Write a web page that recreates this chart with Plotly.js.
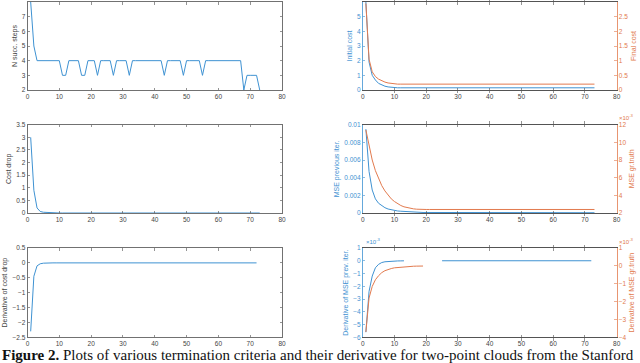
<!DOCTYPE html>
<html>
<head>
<meta charset="utf-8">
<script src="https://cdn.plot.ly/plotly-3.0.1.min.js"></script>
<style>
  html, body { margin: 0; padding: 0; background: #fff; }
  #plotDiv { width: 640px; height: 363px; }
</style>
</head>
<body>
<div id="plotDiv"></div>
<script>
"use strict";

// Iteration index (x for every panel)
const iters = [
  1, 2, 3, 4, 5, 6, 7, 8, 9, 10, 11, 12, 13, 14, 15, 16, 17, 18, 19, 20,
  21, 22, 23, 24, 25, 26, 27, 28, 29, 30, 31, 32, 33, 34, 35, 36, 37, 38, 39, 40,
  41, 42, 43, 44, 45, 46, 47, 48, 49, 50, 51, 52, 53, 54, 55, 56, 57, 58, 59, 60,
  61, 62, 63, 64, 65, 66, 67, 68, 69, 70, 71, 72, 73
];

// Top left: number of successful steps
const succSteps = [
  8, 5, 4, 4, 4, 4, 4, 4, 4, 4,
  3, 3, 4, 4, 4, 4, 3, 3, 4, 4,
  4, 3, 4, 4, 4, 4, 3, 4, 4, 4,
  4, 3, 4, 4, 4, 4, 4, 4, 4, 4,
  4, 4, 3, 4, 4, 4, 4, 4, 3, 4,
  4, 4, 4, 4, 3, 4, 4, 4, 4, 4,
  4, 4, 4, 4, 4, 4, 4, 2, 3, 3,
  3, 3, 2
];

// Top right: initial / final cost
const initialCost = [
  6.0, 1.9, 1.0, 0.68, 0.45, 0.33, 0.26, 0.21, 0.18, 0.15,
  0.15, 0.15, 0.15, 0.15, 0.15, 0.15, 0.15, 0.15, 0.15, 0.15,
  0.15, 0.15, 0.15, 0.15, 0.15, 0.15, 0.15, 0.15, 0.15, 0.15,
  0.15, 0.15, 0.15, 0.15, 0.15, 0.15, 0.15, 0.15, 0.15, 0.15,
  0.15, 0.15, 0.15, 0.15, 0.15, 0.15, 0.15, 0.15, 0.15, 0.15,
  0.15, 0.15, 0.15, 0.15, 0.15, 0.15, 0.15, 0.15, 0.15, 0.15,
  0.15, 0.15, 0.15, 0.15, 0.15, 0.15, 0.15, 0.15, 0.15, 0.15,
  0.15, 0.15, 0.15
];
const finalCost = [
  2.95, 1.05, 0.62, 0.46, 0.37, 0.31, 0.27, 0.24, 0.22, 0.21,
  0.2, 0.2, 0.2, 0.2, 0.2, 0.2, 0.2, 0.2, 0.2, 0.2,
  0.2, 0.2, 0.2, 0.2, 0.2, 0.2, 0.2, 0.2, 0.2, 0.2,
  0.2, 0.2, 0.2, 0.2, 0.2, 0.2, 0.2, 0.2, 0.2, 0.2,
  0.2, 0.2, 0.2, 0.2, 0.2, 0.2, 0.2, 0.2, 0.2, 0.2,
  0.2, 0.2, 0.2, 0.2, 0.2, 0.2, 0.2, 0.2, 0.2, 0.2,
  0.2, 0.2, 0.2, 0.2, 0.2, 0.2, 0.2, 0.2, 0.2, 0.2,
  0.2, 0.2, 0.2
];

// Middle left: cost drop
const costDrop = [
  3.0, 0.9, 0.2, 0.06, 0.03, 0.02, 0.01, 0, 0, 0,
  0, 0, 0, 0, 0, 0, 0, 0, 0, 0,
  0, 0, 0, 0, 0, 0, 0, 0, 0, 0,
  0, 0, 0, 0, 0, 0, 0, 0, 0, 0,
  0, 0, 0, 0, 0, 0, 0, 0, 0, 0,
  0, 0, 0, 0, 0, 0, 0, 0, 0, 0,
  0, 0, 0, 0, 0, 0, 0, 0, 0, 0,
  0, 0, 0
];

// Middle right: MSE vs previous iteration, MSE vs ground truth (x1e-3)
const msePrev = [
  0.0095, 0.0047, 0.0026, 0.0016, 0.0011, 0.0008, 0.0006, 0.00045, 0.00035, 0.00028,
  0.00023, 0.0002, 0.00018, 0.00016, 0.00006, 0.00006, 0.00006, 0.00006, 0.00006, 0.00006,
  0.00006, 0.00006, 0.00003, 0.00003, 0.00003, 0.00003, 0.00003, 0.00003, 0.00003, 0.00003,
  0.00003, 0.00003, 0.00003, 0.00003, 0.00003, 0.00003, 0.00003, 0.00003, 0.00003, 0.00003,
  0.00003, 0.00003, 0.00003, 0.00003, 0.00003, 0.00003, 0.00003, 0.00003, 0.00003, 0.00003,
  0.00003, 0.00003, 0.00003, 0.00003, 0.00003, 0.00003, 0.00003, 0.00003, 0.00003, 0.00003,
  0.00003, 0.00003, 0.00003, 0.00003, 0.00003, 0.00003, 0.00003, 0.00003, 0.00003, 0.00003,
  0.00003, 0.00003, 0.00003
];
const mseGtE3 = [
  11.4, 9.6, 8.0, 6.8, 5.9, 5.1, 4.5, 4.0, 3.6, 3.3,
  3.05, 2.85, 2.7, 2.6, 2.52, 2.47, 2.43, 2.4, 2.4, 2.4,
  2.4, 2.4, 2.4, 2.4, 2.4, 2.4, 2.4, 2.4, 2.4, 2.4,
  2.4, 2.4, 2.4, 2.4, 2.4, 2.4, 2.4, 2.4, 2.4, 2.4,
  2.4, 2.4, 2.4, 2.4, 2.4, 2.4, 2.4, 2.4, 2.4, 2.4,
  2.4, 2.4, 2.4, 2.4, 2.4, 2.4, 2.4, 2.4, 2.4, 2.4,
  2.4, 2.4, 2.4, 2.4, 2.4, 2.4, 2.4, 2.4, 2.4, 2.4,
  2.4, 2.4, 2.4
];

// Bottom left: derivative of cost drop (72 values)
const dCostDrop = [
  -2.3, -0.45, -0.1, -0.03, -0.01, 0, 0, 0, 0, 0,
  0, 0, 0, 0, 0, 0, 0, 0, 0, 0,
  0, 0, 0, 0, 0, 0, 0, 0, 0, 0,
  0, 0, 0, 0, 0, 0, 0, 0, 0, 0,
  0, 0, 0, 0, 0, 0, 0, 0, 0, 0,
  0, 0, 0, 0, 0, 0, 0, 0, 0, 0,
  0, 0, 0, 0, 0, 0, 0, 0, 0, 0,
  0, 0
];

// Bottom right: derivatives of the MSEs (x1e-3), gaps where missing
const dMsePrevE3 = [
  -5.6, -2.4, -1.2, -0.55, -0.28, -0.14, -0.08, -0.05, -0.03, -0.02,
  -0.015, -0.01, -0.005, null, null, null, null, null, null, null,
  null, null, null, null, 0, 0, 0, 0, 0, 0,
  0, 0, 0, 0, 0, 0, 0, 0, 0, 0,
  0, 0, 0, 0, 0, 0, 0, 0, 0, 0,
  0, 0, 0, 0, 0, 0, 0, 0, 0, 0,
  0, 0, 0, 0, 0, 0, 0, 0, 0, 0,
  0, 0
];
const dMseGtE3 = [
  -3.7, -1.8, -1.15, -0.78, -0.55, -0.38, -0.27, -0.2, -0.15, -0.11,
  -0.09, -0.07, -0.05, -0.04, -0.03, -0.02, -0.015, -0.01, -0.01
];

const BLUE = '#3f92d2';
const ORANGE = '#e27a4e';
const AXIS = '#4d4d4d';
const FONT = 'Liberation Sans, Arial, sans-serif';

function line(x, y, xa, ya, color) {
    return { x: x, y: y, xaxis: xa, yaxis: ya, type: 'scatter', mode: 'lines',
             line: { color: color, width: 1 }, connectgaps: false, hoverinfo: 'skip' };
}

function xAxis(domain, anchor) {
    return {
        domain: domain, anchor: anchor, range: [0, 80], dtick: 10, tick0: 0,
        showline: true, linecolor: AXIS, linewidth: 0.8, mirror: 'allticks',
        ticks: 'inside', ticklen: 2.5, tickwidth: 0.6, tickcolor: AXIS,
        showgrid: false, zeroline: false,
        tickfont: { family: FONT, size: 6.5, color: '#444' }
    };
}

function yAxis(domain, anchor, range, dtick, title, color, opts) {
    const ax = {
        domain: domain, anchor: anchor, range: range, dtick: dtick,
        showline: true, linecolor: color, linewidth: 0.8, mirror: 'allticks',
        ticks: 'inside', ticklen: 2.5, tickwidth: 0.6, tickcolor: color,
        showgrid: false, zeroline: false,
        tickfont: { family: FONT, size: 6.5, color: color === AXIS ? '#444' : color },
        title: { text: title, standoff: 3, font: { family: FONT, size: 7, color: color === AXIS ? '#444' : color } }
    };
    return Object.assign(ax, opts || {});
}

const colL = [27.5 / 640, 282 / 640];
const colR = [362.7 / 640, 616.7 / 640];
const row1 = [1 - 90 / 363, 1 - 2 / 363];
const row2 = [1 - 213 / 363, 1 - 124.7 / 363];
const row3 = [1 - 337.3 / 363, 1 - 248 / 363];

const traces = [
    line(iters, succSteps, 'x', 'y', BLUE),
    line(iters, initialCost, 'x2', 'y2', BLUE),
    line(iters, finalCost, 'x2', 'y3', ORANGE),
    line(iters, costDrop, 'x3', 'y4', BLUE),
    line(iters, msePrev, 'x4', 'y5', BLUE),
    line(iters, mseGtE3, 'x4', 'y6', ORANGE),
    line(iters.slice(0, dCostDrop.length), dCostDrop, 'x5', 'y7', BLUE),
    line(iters.slice(0, dMsePrevE3.length), dMsePrevE3, 'x6', 'y8', BLUE),
    line(iters.slice(0, dMseGtE3.length), dMseGtE3, 'x6', 'y9', ORANGE)
];

const layout = {
    width: 640, height: 363,
    margin: { l: 0, r: 0, t: 0, b: 0 },
    paper_bgcolor: '#fff', plot_bgcolor: '#fff',
    showlegend: false,
    font: { family: FONT, size: 7, color: '#444' },

    xaxis: xAxis(colL, 'y'),
    yaxis: yAxis(row1, 'x', [2, 8], 1, 'N succ. steps', AXIS),

    xaxis2: xAxis(colR, 'y2'),
    yaxis2: yAxis(row1, 'x2', [0, 6], 1, 'Initial cost', BLUE, { mirror: false }),
    yaxis3: yAxis(row1, 'x2', [0, 3], 0.5, 'Final cost', ORANGE,
                  { overlaying: 'y2', side: 'right', mirror: false }),

    xaxis3: xAxis(colL, 'y4'),
    yaxis4: yAxis(row2, 'x3', [0, 3.5], 0.5, 'Cost drop', AXIS),

    xaxis4: xAxis(colR, 'y5'),
    yaxis5: yAxis(row2, 'x4', [0, 0.01], 0.002, 'MSE previous iter.', BLUE, { mirror: false }),
    yaxis6: yAxis(row2, 'x4', [2, 12], 2, 'MSE gr.truth', ORANGE,
                  { overlaying: 'y5', side: 'right', mirror: false }),

    xaxis5: xAxis(colL, 'y7'),
    yaxis7: yAxis(row3, 'x5', [-2.5, 0.5], 0.5, 'Derivative of cost drop', AXIS),

    xaxis6: xAxis(colR, 'y8'),
    yaxis8: yAxis(row3, 'x6', [-6, 1], 1, 'Derivative of MSE prev. iter.', BLUE, { mirror: false }),
    yaxis9: yAxis(row3, 'x6', [-4, 1], 1, 'Derivative of MSE gr.truth', ORANGE,
                  { overlaying: 'y8', side: 'right', mirror: false }),

    annotations: [
        { xref: 'paper', yref: 'paper', x: 616.7 / 640, y: 1 - 123 / 363, xanchor: 'left', yanchor: 'bottom',
          text: '×10<sup>-3</sup>', showarrow: false, font: { family: FONT, size: 6, color: ORANGE } },
        { xref: 'paper', yref: 'paper', x: 364 / 640, y: 1 - 246.5 / 363, xanchor: 'left', yanchor: 'bottom',
          text: '×10<sup>-3</sup>', showarrow: false, font: { family: FONT, size: 6, color: BLUE } },
        { xref: 'paper', yref: 'paper', x: 617 / 640, y: 1 - 246.5 / 363, xanchor: 'left', yanchor: 'bottom',
          text: '×10<sup>-3</sup>', showarrow: false, font: { family: FONT, size: 6, color: ORANGE } },
        { xref: 'paper', yref: 'paper', x: 0, y: 0, xanchor: 'left', yanchor: 'bottom', yshift: -2,
          text: '<b>Figure 2.</b> Plots of various termination criteria and their derivative for two-point clouds from the Stanford',
          showarrow: false, font: { family: 'Liberation Serif, Times New Roman, serif', size: 15, color: '#111' } }
    ]
};

Plotly.newPlot('plotDiv', traces, layout, { staticPlot: true, displayModeBar: false });
</script>
</body>
</html>
